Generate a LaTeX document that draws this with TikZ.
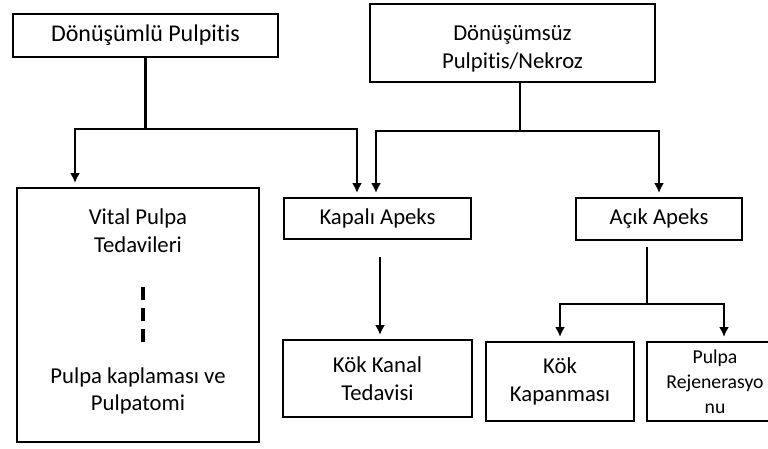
\documentclass[tikz,border=0pt]{standalone}
\usepackage{fontspec}
\setmainfont{Carlito}[Ligatures=CommonOff]
\usetikzlibrary{arrows.meta}

\tikzset{
    kutu/.style={draw, line width=2pt, inner sep=0pt, align=center,
        font=\fontsize{22.7}{27.5}\selectfont},
    yazi/.style={align=center, inner sep=0pt, font=\fontsize{22.7}{27.5}\selectfont},
    ok/.style={line width=2.6pt, -{Latex[length=10pt,width=10pt]}, shorten >=4pt},
    hat/.style={line width=2.6pt},
}

\begin{document}
\begin{tikzpicture}[x=1pt, y=-1pt]
        \clip (0,0) rectangle (768,448);
        \fill[white] (0,0) rectangle (768,448);
        % ust kutular
        \node[kutu, minimum width=265pt, minimum height=43pt,
            font=\fontsize{24}{28}\selectfont] (donuslu) at (145.5,35.5) {Dönüşümlü Pulpitis};
        \node[kutu, minimum width=285pt, minimum height=78pt] (donussuz) at (512.5,43) {};
        \node[yazi] (donussuzyazi) at (512.5,49) {Dönüşümsüz\\Pulpitis/Nekroz};
        % orta kutular
        \node[kutu, minimum width=242pt, minimum height=254pt] (vital) at (138,315) {};
        \node[yazi] (vitalust) at (138,230.5) {Vital Pulpa\\Tedavileri};
        \node[yazi] (vitalalt) at (138,391) {Pulpa kaplaması ve\\Pulpatomi};
        \node[kutu, minimum width=187pt, minimum height=41pt] (kapali) at (377.5,218.5) {Kapalı Apeks};
        \node[kutu, minimum width=166pt, minimum height=42pt] (acik) at (659,219) {Açık Apeks};
        % alt kutular
        \node[kutu, minimum width=189pt, minimum height=77pt] (kanal) at (377.5,378.5) {Kök Kanal\\Tedavisi};
        \node[kutu, minimum width=148pt, minimum height=79pt] (kapanma) at (560,381.5) {Kök\\Kapanması};
        \node[kutu, minimum width=136pt, minimum height=79pt,
            font=\fontsize{19.7}{25}\selectfont] (rejen) at (715,381.5) {Pulpa\\Rejenerasyo\\nu};

        % baglantilar
        \coordinate (aj) at (145.5,129);
        \coordinate (bj) at (520,131);
        \coordinate (ej) at (647,304);
        \draw[hat] (donuslu.south) -- (aj);
        \draw[ok] (aj) -| ([xshift=-63pt]vital.north);
        \draw[ok] (aj) -| ([xshift=-20.5pt]kapali.north);
        \draw[hat] ([xshift=7.5pt]donussuz.south) -- (bj);
        \draw[ok] (bj) -| ([xshift=-1.5pt]kapali.north);
        \draw[ok] (bj) -| (acik.north);
        \draw[ok, shorten <=17pt] ([xshift=2.5pt]kapali.south) -- ([xshift=2.5pt]kanal.north);
        \draw[hat, shorten <=6pt] ([xshift=-12pt]acik.south) -- (ej);
        \draw[ok] (ej) -| (kapanma.north);
        \draw[ok] (ej) -| ([xshift=9pt]rejen.north);

        % kesikli cizgi
        \coordinate (d1) at (143,287);
        \coordinate (d2) at (143,342);
        \draw[line width=3.5pt, dash pattern=on 13pt off 8pt] (d1) -- (d2);
\end{tikzpicture}
\end{document}
